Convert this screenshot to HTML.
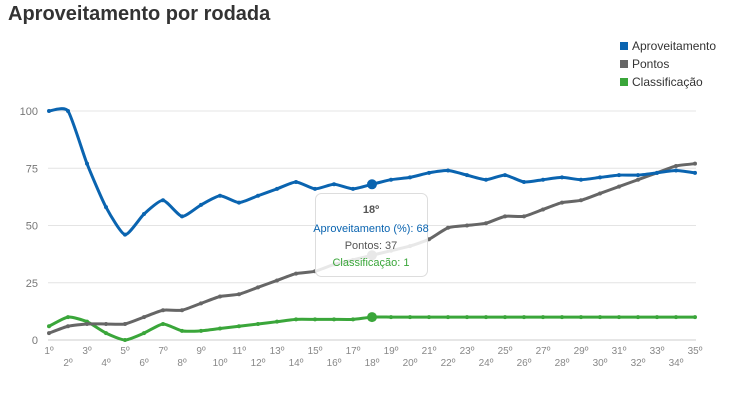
<!DOCTYPE html>
<html><head><meta charset="utf-8"><style>
body{margin:0;background:#fff;width:730px;height:400px;overflow:hidden;font-family:"Liberation Sans",sans-serif}
h1{position:absolute;left:8px;top:3px;margin:0;font-size:20px;font-weight:bold;color:#333}
</style></head><body>
<h1>Aproveitamento por rodada</h1>
<svg id="s" width="730" height="400" style="position:absolute;left:0;top:0" font-family="Liberation Sans, sans-serif"></svg>
<script>
var s=document.getElementById('s'),h='';
function X(i){return 49+i*19}
function Y(v){return 340-v*2.29}
var L=[['#0a64b0','Aproveitamento'],['#666','Pontos'],['#3aa63a','Classificação']];
L.forEach(function(l,i){h+='<rect x="620" y="'+(42+i*18)+'" width="8" height="8" fill="'+l[0]+'"/><text x="632" y="'+(50+i*18)+'" font-size="12" fill="#333">'+l[1]+'</text>';});
[0,25,50,75,100].forEach(function(v){h+='<line x1="48" x2="696" y1="'+Y(v)+'" y2="'+Y(v)+'" stroke="'+(v?'#e4e4e4':'#ccc')+'"/><text x="38" y="'+(Y(v)+4)+'" font-size="11" fill="#777" text-anchor="end">'+v+'</text>';});
for(var i=0;i<35;i++){h+='<text x="'+X(i)+'" y="'+(i%2?366:354)+'" font-size="10" fill="#888" text-anchor="middle">'+(i+1)+'º</text>';}
var A=[100,100,77,58,46,55,61,54,59,63,60,63,66,69,66,68,66,68,70,71,73,74,72,70,72,69,70,71,70,71,72,72,73,74,73];
var P=[3,6,7,7,7,10,13,13,16,19,20,23,26,29,30,33,35,37,39,41,44,49,50,51,54,54,57,60,61,64,67,70,73,76,77];
var C=[6,10,8,3,0,3,7,4,4,5,6,7,8,9,9,9,9,10,10,10,10,10,10,10,10,10,10,10,10,10,10,10,10,10,10];
function path(d){var p=d.map(function(v,i){return[X(i),Y(v)]});var str='M'+p[0][0]+','+p[0][1];
for(var i=0;i<p.length-1;i++){var p0=p[i-1]||p[i],p1=p[i],p2=p[i+1],p3=p[i+2]||p2,t=0.1;
str+=' C'+(p1[0]+(p2[0]-p0[0])*t)+','+(p1[1]+(p2[1]-p0[1])*t)+' '+(p2[0]-(p3[0]-p1[0])*t)+','+(p2[1]-(p3[1]-p1[1])*t)+' '+p2[0]+','+p2[1];}return str;}
function series(d,c){h+='<path d="'+path(d)+'" fill="none" stroke="'+c+'" stroke-width="3"/>';d.forEach(function(v,i){h+='<circle cx="'+X(i)+'" cy="'+Y(v)+'" r="'+(i==17?5:2)+'" fill="'+c+'"/>';});}
series(C,'#3aa63a');series(P,'#666');series(A,'#0a64b0');
h+='<rect x="315.5" y="193.5" width="112" height="83" rx="6" fill="rgba(255,255,255,0.85)" stroke="#ddd"/>';
h+='<text x="371" y="213" font-size="11" font-weight="bold" fill="#555" text-anchor="middle">18º</text>';
h+='<text x="371" y="232" font-size="11" fill="#0a64b0" text-anchor="middle">Aproveitamento (%): 68</text>';
h+='<text x="371" y="249" font-size="11" fill="#555" text-anchor="middle">Pontos: 37</text>';
h+='<text x="371" y="266" font-size="11" fill="#3aa63a" text-anchor="middle">Classificação: 1</text>';
s.innerHTML=h;
</script>
</body></html>
